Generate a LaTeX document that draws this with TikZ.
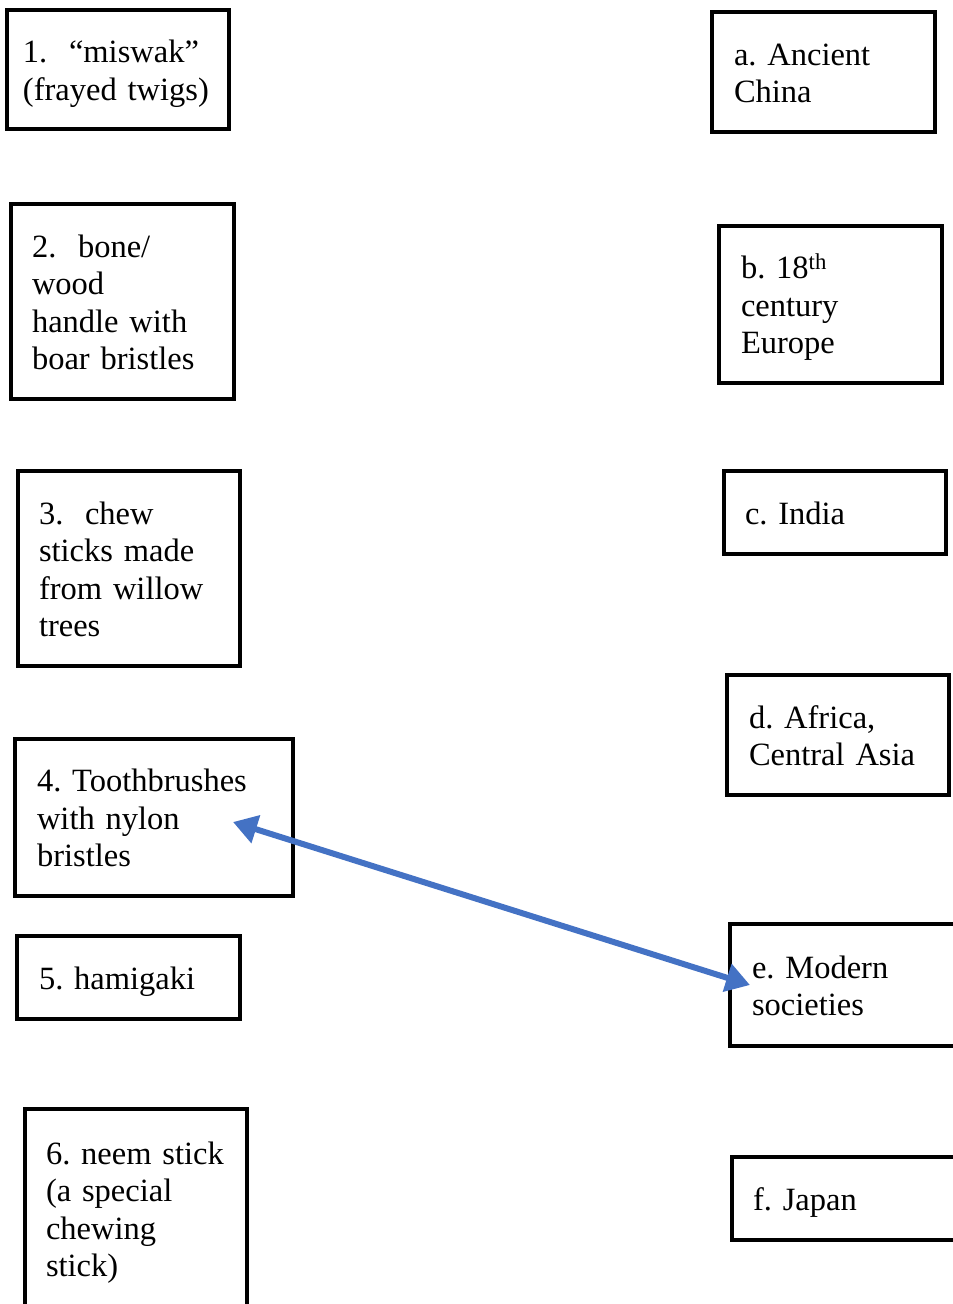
\documentclass[tikz,border=0pt]{standalone}
\usepackage{fontspec}
\setmainfont{Liberation Serif}
\usetikzlibrary{arrows.meta}
\definecolor{arrowblue}{HTML}{4472C4}
\newcommand\topstr{\rule{0pt}{35pt}}
\begin{document}
\frenchspacing
\begin{tikzpicture}[x=1pt,y=-1pt,
  box/.style={draw=black, line width=3.6pt, align=left, inner ysep=0pt,
    font=\fontsize{32.5}{37.5}\selectfont\frenchspacing},
  link/.style={draw=arrowblue, line width=6pt,
    {Triangle[length=24pt,width=28pt]}-{Triangle[length=24pt,width=28pt]}}]
\useasboundingbox (0,0) rectangle (953,1304);
\clip (0,0) rectangle (953,1304);
% left column
\node[box, inner xsep=16, text width=190, minimum height=119] (b1) at (118,69.5)
  {\topstr 1.\ \ “miswak”\\(frayed twigs)\strut};
\node[box, inner xsep=21, text width=181, minimum height=195] (b2) at (122.5,301.5)
  {\topstr 2.\ \ bone/\\wood\\handle with\\boar bristles\strut};
\node[box, inner xsep=21, text width=180, minimum height=195] (b3) at (129,568.5)
  {\topstr 3.\ \ chew\\sticks made\\from willow\\trees\strut};
\node[box, inner xsep=22, text width=234, minimum height=157] (b4) at (154,817.5)
  {\topstr 4. Toothbrushes\\with nylon\\bristles\strut};
\node[box, inner xsep=22, text width=179, minimum height=83] (b5) at (128.5,977.5)
  {\topstr 5. hamigaki\strut};
\node[box, inner xsep=21, text width=180, minimum height=199] (b6) at (136,1208.5)
  {\topstr 6. neem stick\\(a special\\chewing\\stick)\strut};
% right column
\node[box, inner xsep=22, text width=179, minimum height=120] (ba) at (823.5,72)
  {\topstr a. Ancient\\China\strut};
\node[box, inner xsep=22, text width=179, minimum height=157] (bb) at (830.5,304.5)
  {\topstr b. 18\textsuperscript{th}\\century\\Europe\strut};
\node[box, inner xsep=21, text width=180, minimum height=83] (bc) at (835,512.5)
  {\topstr c. India\strut};
\node[box, inner xsep=22, text width=178, minimum height=120] (bd) at (838,735)
  {\topstr d. Africa,\\Central Asia\strut};
\node[box, inner xsep=22, text width=186, minimum height=122] (be) at (845,985)
  {\topstr e. Modern\\societies\strut};
\node[box, inner xsep=21, text width=186, minimum height=83] (bf) at (846,1198.5)
  {\topstr f. Japan\strut};
% connector
\coordinate (p4) at (233,822);
\coordinate (pe) at (750,985);
\draw[link] (p4) -- (pe);
\end{tikzpicture}
\end{document}
